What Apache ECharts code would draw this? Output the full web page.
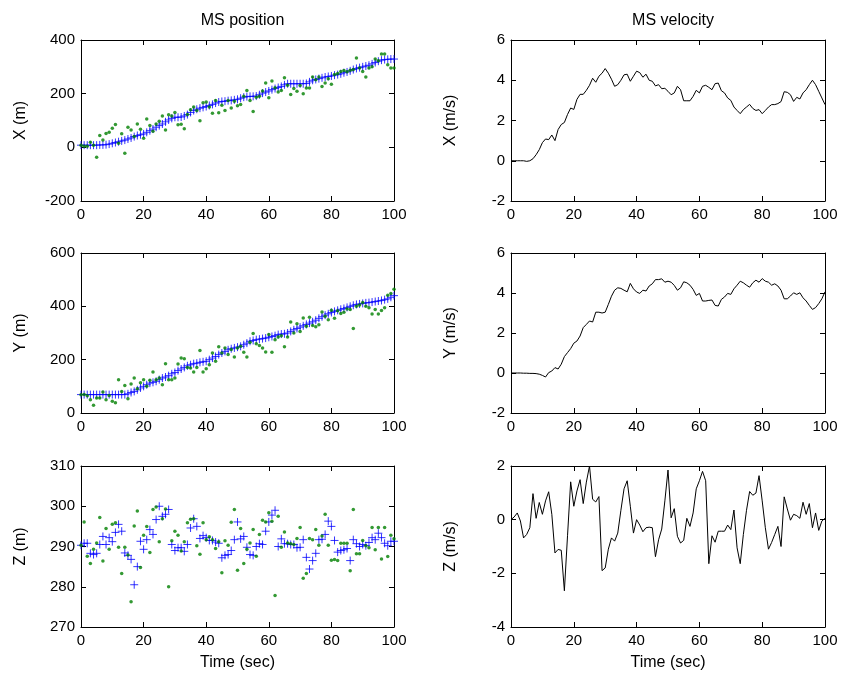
<!DOCTYPE html>
<html>
<head>
<meta charset="utf-8">
<script src="https://cdn.jsdelivr.net/npm/echarts@6/dist/echarts.min.js"></script>
<style>
html,body{margin:0;padding:0;background:#fff;}
#chart{width:842px;height:677px;}
</style>
</head>
<body>
<div id="chart"></div>
<script>
// ---- data ----
const time = [0,1,2,3,4,5,6,7,8,9,10,11,12,13,14,15,16,17,18,19,20,21,22,23,24,25,26,27,28,29,30,31,32,33,34,35,36,37,38,39,40,41,42,43,44,45,46,47,48,49,50,51,52,53,54,55,56,57,58,59,60,61,62,63,64,65,66,67,68,69,70,71,72,73,74,75,76,77,78,79,80,81,82,83,84,85,86,87,88,89,90,91,92,93,94,95,96,97,98,99,100];

const xPosEst = [8,8,8,8,8,8,9,9,10,12,15,18,21,24,27,31,35,40,44,47,50,56,62,68,75,81,87,95,102,108,112,112,113,117,122,130,137,142,146,149,152,156,160,165,169,171,172,174,175,177,179,183,187,189,190,190,191,196,202,206,210,215,219,223,227,233,237,237,237,237,237,237,238,244,250,253,256,259,262,264,266,269,271,274,278,281,285,290,294,297,300,303,306,311,316,321,325,327,328,329,329];
const xPosMeas = [8,4,4,19,8,-37,44,27,52,56,71,85,15,51,-22,75,65,40,87,67,34,106,81,60,87,97,117,65,121,117,130,84,86,69,122,140,150,137,99,166,169,150,127,175,129,157,137,175,147,172,155,160,190,212,175,134,187,190,210,240,185,247,222,206,212,259,231,197,219,209,230,200,221,221,262,252,262,227,240,256,235,271,275,283,286,282,287,290,333,296,283,262,296,300,329,323,348,348,308,296,296];

const yPosEst = [69,69,69,69,69,69,69,69,69,69,69,69,69,69,69,72,77,81,87,94,100,106,112,115,119,125,131,135,140,147,152,159,165,171,177,181,185,187,190,192,194,200,206,212,219,225,231,237,241,244,247,250,256,262,269,272,275,277,279,281,284,287,290,294,296,297,300,306,312,317,322,327,332,337,342,348,355,361,367,372,377,381,385,389,392,396,400,404,407,409,411,413,414,416,418,420,422,425,428,434,440];
const yPosMeas = [68,69,65,50,29,56,56,79,50,66,44,38,125,81,103,53,109,131,91,113,125,100,123,154,125,131,106,185,125,125,131,184,206,203,171,169,154,171,234,154,166,181,225,194,248,225,244,219,238,210,244,250,228,210,265,298,260,253,244,229,294,228,275,285,290,248,285,341,300,335,306,356,325,359,328,323,331,379,363,350,385,355,383,373,378,390,388,317,400,405,414,400,395,371,388,371,384,395,442,448,464];

const zPosEst = [290.3,290.8,290.8,288.3,288.0,288.3,290.5,292.5,290.5,292.2,291.2,293.5,295.5,293.8,288.4,287.8,286.8,280.5,285.0,291.3,289.3,291.7,294.2,293.0,296.7,300.0,297.5,298.0,299.2,290.5,289.0,289.7,289.7,288.8,290.5,294.6,296.9,295.0,292.0,292.7,292.2,291.5,291.5,291.1,290.8,287.2,287.8,288.0,289.0,291.7,296.1,291.9,292.5,289.8,288.0,287.8,290.0,290.7,290.5,293.8,296.1,297.8,299.0,290.0,291.9,290.7,290.7,290.5,290.5,289.7,289.8,291.7,287.3,284.4,286.5,288.3,291.7,291.8,293.0,296.3,295.0,291.5,288.6,289.0,289.2,289.5,286.5,291.7,290.7,290.0,290.5,290.2,291.0,292.2,291.7,293.3,292.2,290.8,290.2,291.3,291.3];
const zPosMeas = [290.3,296.1,287.6,285.8,289.3,290.9,297.2,286.4,294.5,289.3,295.5,295.9,289.8,283.3,289.8,287.9,276.3,295.1,298.8,284.8,292.8,295.0,288.5,299.2,299.8,291.2,296.9,299.3,280.0,291.4,293.8,292.8,288.9,291.2,295.9,296.8,296.9,290.2,288.1,295.9,291.7,292.4,291.7,289.5,291.2,283.5,291.4,290.3,296.0,299.2,284.1,294.5,285.8,289.3,290.9,294.2,287.6,293.0,296.5,296.1,298.4,296.3,277.8,297.5,289.8,293.6,290.9,290.7,290.5,292.0,294.7,282.1,283.3,292.0,291.7,294.2,290.3,292.6,298.0,290.3,286.6,286.8,286.5,290.8,290.8,290.8,284.0,299.2,288.2,288.2,291.5,290.2,289.7,294.7,289.2,294.7,286.9,294.7,287.5,292.8,291.9];

const xVel = [0,0,0,0,0,-0.03,0,0.1,0.3,0.55,0.9,1.08,1.05,1.28,1.0,1.55,1.8,1.9,2.3,2.62,2.55,3.05,3.3,3.3,3.5,3.75,4.1,3.9,4.2,4.35,4.58,4.35,4.05,3.7,3.78,4.0,4.27,4.3,3.95,4.2,4.45,4.38,4.15,4.3,4.0,3.95,3.72,3.78,3.58,3.6,3.45,3.28,3.37,3.7,3.53,2.98,2.98,2.98,3.2,3.5,3.37,3.7,3.75,3.65,3.53,3.83,3.86,3.48,3.37,3.12,3.0,2.67,2.5,2.34,2.54,2.67,2.8,2.6,2.5,2.54,2.34,2.5,2.67,2.79,2.79,2.84,2.94,3.43,3.4,3.28,2.95,3.15,3.07,3.37,3.53,3.78,4.0,3.78,3.45,3.12,2.79];
const yVel = [0,0,0,0,-0.01,-0.01,-0.02,-0.02,-0.03,-0.06,-0.12,-0.2,0.02,0.1,0.27,0.2,0.44,0.82,1.02,1.22,1.49,1.6,1.85,2.27,2.43,2.6,2.55,3.04,3.04,3.0,3.04,3.43,3.84,4.14,4.26,4.23,4.14,4.06,4.48,4.21,4.05,3.98,4.14,4.1,4.35,4.46,4.67,4.67,4.71,4.54,4.59,4.54,4.38,4.14,4.26,4.56,4.51,4.39,4.18,3.88,3.98,3.6,3.6,3.63,3.65,3.38,3.35,3.68,3.8,3.98,3.93,4.21,4.39,4.59,4.51,4.39,4.29,4.51,4.64,4.54,4.72,4.59,4.54,4.39,4.46,4.35,4.14,3.71,3.71,3.85,4.01,3.93,4.01,3.76,3.6,3.38,3.18,3.27,3.47,3.71,4.06];
const zVel = [0,0.1,0.25,-0.05,-0.68,-0.55,-0.3,0.97,0.05,0.64,0.2,0.7,1.04,0.2,-1.24,-1.11,-1.14,-2.65,-0.6,1.41,0.5,1.07,1.49,0.6,1.4,2.0,0.76,0.66,0.86,-1.9,-1.8,-1.1,-0.68,-0.8,-0.5,0.35,1.15,1.45,0.5,-0.5,0.0,-0.2,-0.45,-0.3,-0.28,-0.3,-1.38,-0.75,-0.35,0.7,1.85,0.07,0.41,-0.62,-0.87,-0.77,0.05,-0.25,0.25,1.15,1.45,1.8,1.45,-1.64,-0.6,-0.84,-0.43,-0.43,-0.43,-0.2,-0.37,0.36,-1.05,-1.64,-0.55,0.35,1.05,0.91,0.99,1.64,0.7,-0.3,-1.1,-0.85,-0.55,-0.25,-1.0,0.85,0.4,-0.02,0.2,0.15,0.05,0.65,0.2,0.6,-0.3,0.25,-0.4,-0.05,0.05];

const timeTicks = {min:0, max:100, interval:20};
const panelTitles = ['MS position','MS velocity'];
const yNames = ['X (m)','Y (m)','Z (m)','X (m/s)','Y (m/s)','Z (m/s)'];
const yRanges = [[-200,400,200],[0,600,200],[270,310,10],[-2,6,2],[-2,6,2],[-4,2,2]];
const xName = 'Time (sec)';

// ---- chart ----
const FONT = 'Liberation Sans, Arial, Helvetica, sans-serif';
const FS = 15;
const FSN = 16;
const chart = echarts.init(document.getElementById('chart'), null, {renderer:'canvas'});
const pair = (ys) => time.map((t,i)=>[t, ys[i]]);

const rowsTop = [40, 253, 466];
const rowsH = [161, 160, 161];
const colsLeft = [81, 511];
const colsW = [313, 314];

const grids = [], xAxes = [], yAxes = [];
for (let c = 0; c < 2; c++) {
  for (let r = 0; r < 3; r++) {
    const gi = c*3 + r;
    grids.push({left: colsLeft[c], top: rowsTop[r], width: colsW[c], height: rowsH[r], containLabel:false});
    const axisLine = {show:true, onZero:false, lineStyle:{color:'#000', width:1}};
    const axisTick = {show:true, inside:true, length:5, lineStyle:{color:'#000', width:1}};
    const axisLabel = {color:'#000', fontFamily:FONT, fontSize:FS, margin:6};
    xAxes.push({type:'value', gridIndex:gi, position:'bottom', min:timeTicks.min, max:timeTicks.max, interval:timeTicks.interval,
      axisLine, axisTick, axisLabel, splitLine:{show:false},
      name: r===2 ? xName : '', nameLocation:'middle', nameGap:28,
      nameTextStyle:{color:'#000', fontFamily:FONT, fontSize:FSN}});
    xAxes.push({type:'value', gridIndex:gi, position:'top', min:timeTicks.min, max:timeTicks.max, interval:timeTicks.interval,
      axisLine, axisTick, axisLabel:{show:false}, splitLine:{show:false}});
    const yr = yRanges[gi];
    yAxes.push({type:'value', gridIndex:gi, position:'left', min:yr[0], max:yr[1], interval:yr[2],
      axisLine, axisTick, axisLabel, splitLine:{show:false},
      name: yNames[gi], nameLocation:'middle', nameGap:52, nameRotate:90,
      nameTextStyle:{color:'#000', fontFamily:FONT, fontSize:FSN}});
    yAxes.push({type:'value', gridIndex:gi, position:'right', min:yr[0], max:yr[1], interval:yr[2],
      axisLine, axisTick, axisLabel:{show:false}, splitLine:{show:false}});
  }
}

const plus = 'path://M0,5L10,5M5,0L5,10';
const estStyle = {color:'rgba(0,0,0,0)', borderColor:'#0000ff', borderWidth:1};
const measStyle = {color:'#008000'};
const series = [];
const posEst = [xPosEst, yPosEst, zPosEst];
const posMeas = [xPosMeas, yPosMeas, zPosMeas];
for (let r = 0; r < 3; r++) {
  series.push({type:'scatter', xAxisIndex:r*2, yAxisIndex:r*2, data:pair(posEst[r]),
    symbol:plus, symbolSize:8, itemStyle:estStyle, silent:true, animation:false});
  series.push({type:'scatter', xAxisIndex:r*2, yAxisIndex:r*2, data:pair(posMeas[r]),
    symbol:'circle', symbolSize:3.5, itemStyle:measStyle, silent:true, animation:false});
}
const vels = [xVel, yVel, zVel];
for (let r = 0; r < 3; r++) {
  const gi = 3 + r;
  series.push({type:'line', xAxisIndex:gi*2, yAxisIndex:gi*2, data:pair(vels[r]),
    showSymbol:false, symbol:'none', lineStyle:{color:'#000', width:1}, silent:true, animation:false});
}

chart.setOption({
  backgroundColor:'#fff',
  animation:false,
  title: [
    {text:panelTitles[0], left: 81 + 313/2, top: 8, textAlign:'center', textStyle:{color:'#000', fontFamily:FONT, fontSize:FSN, fontWeight:'normal'}},
    {text:panelTitles[1], left: 511 + 314/2, top: 8, textAlign:'center', textStyle:{color:'#000', fontFamily:FONT, fontSize:FSN, fontWeight:'normal'}}
  ],
  grid: grids,
  xAxis: xAxes,
  yAxis: yAxes,
  series: series
});
</script>
</body>
</html>
